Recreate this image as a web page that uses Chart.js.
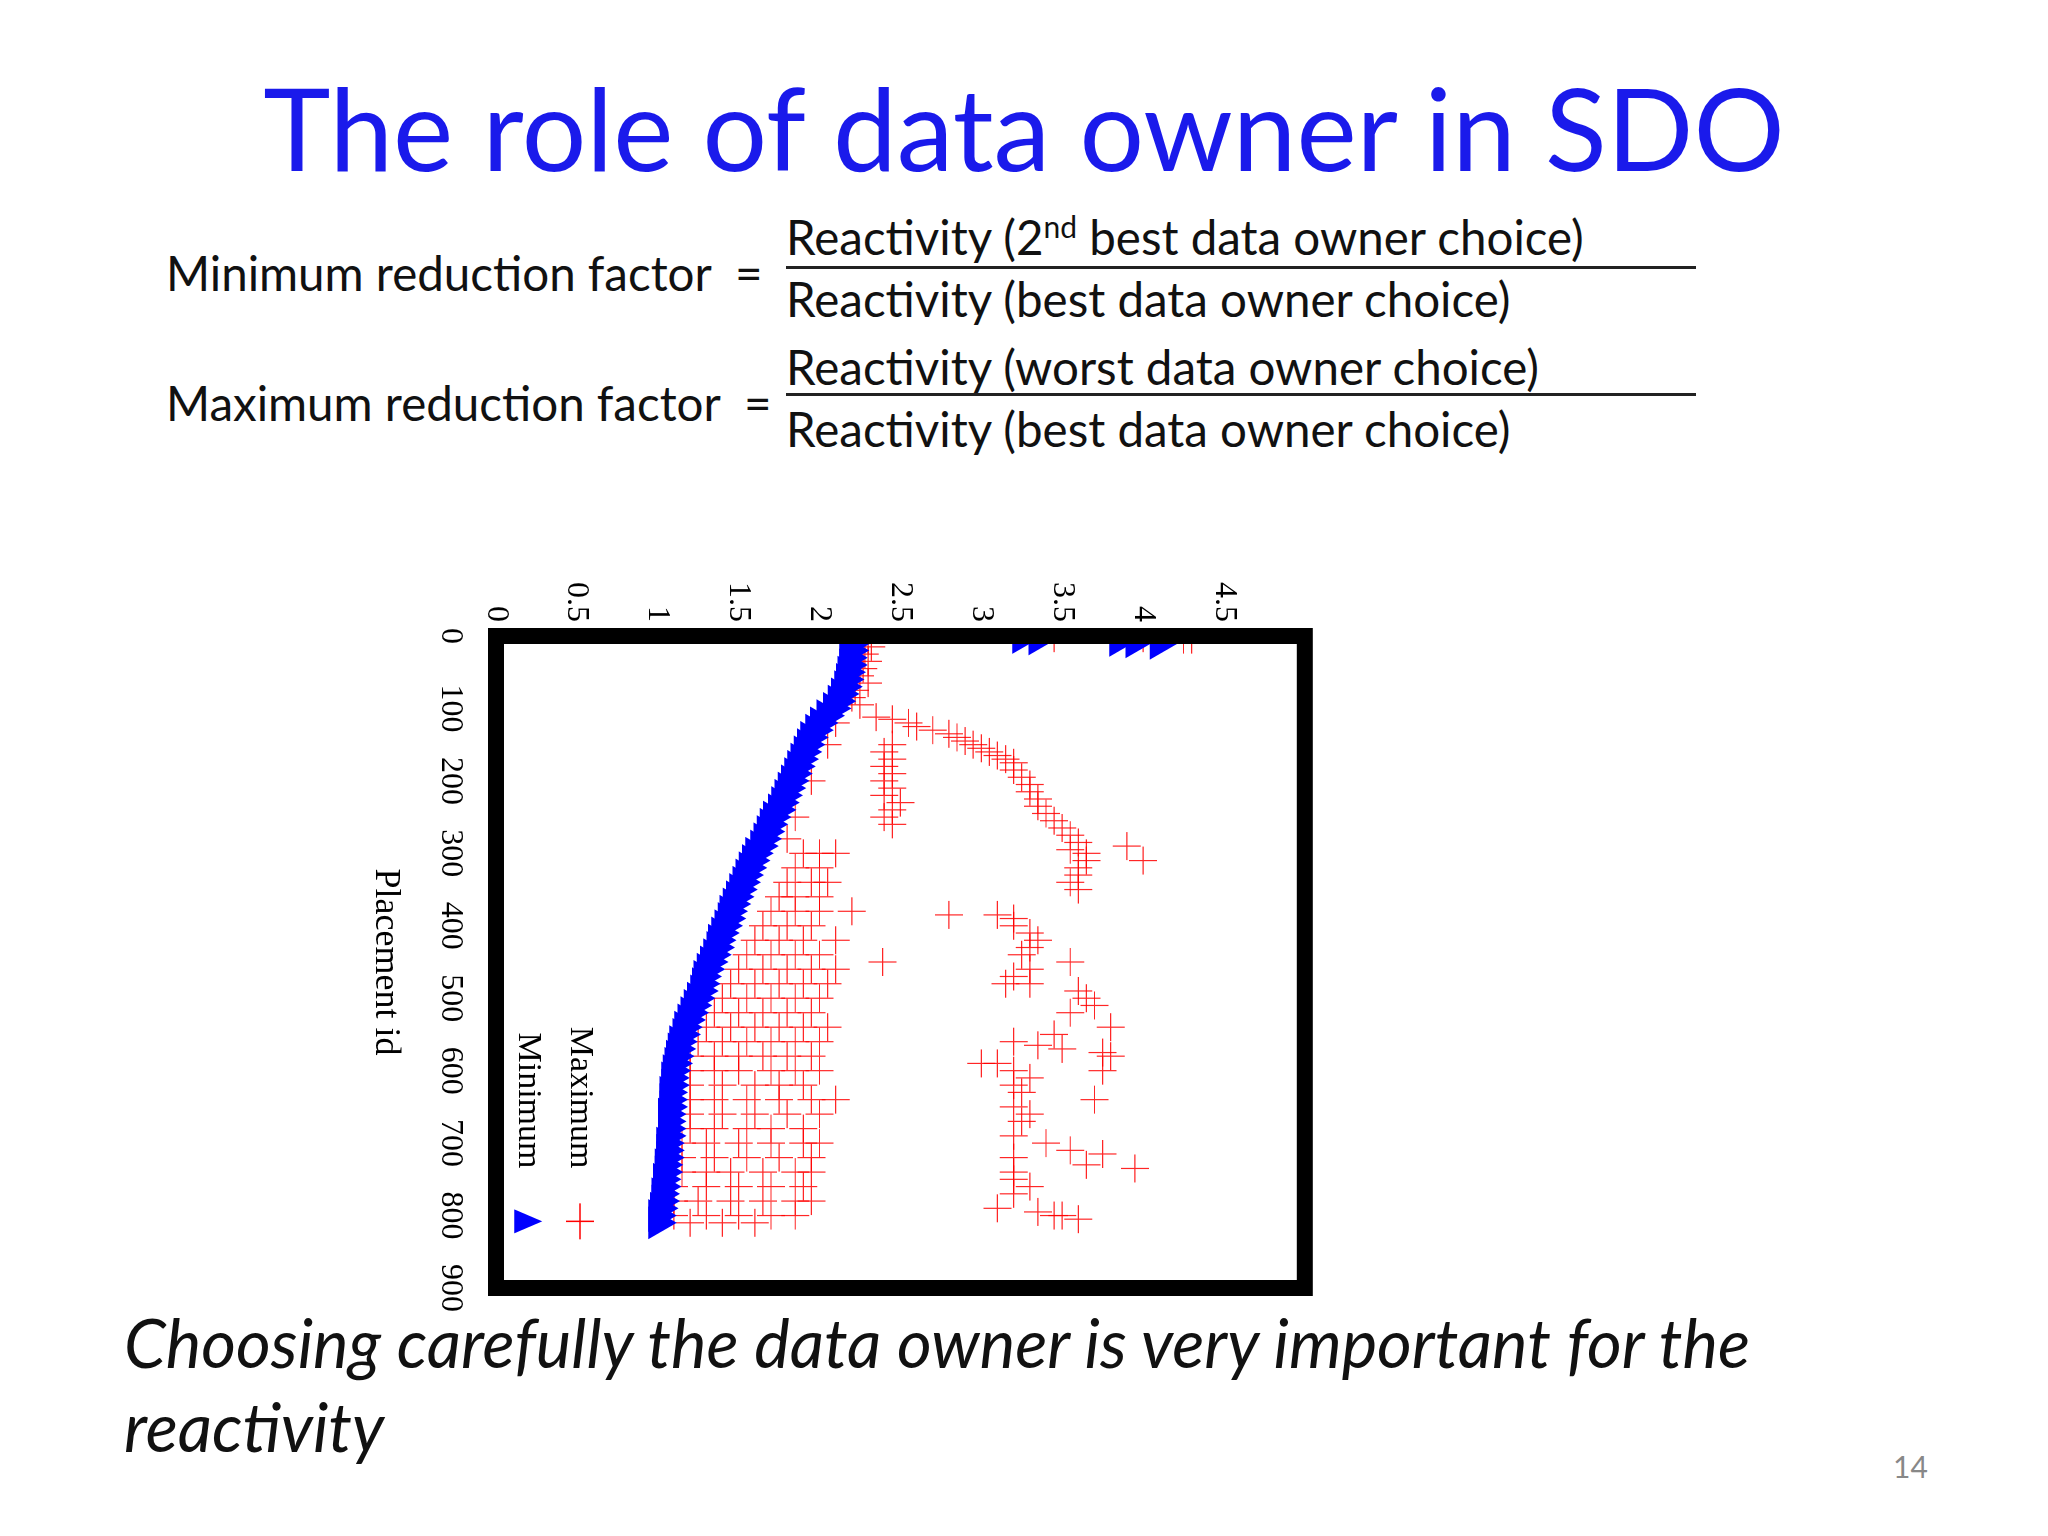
<!DOCTYPE html>
<html>
<head>
<meta charset="utf-8">
<script src="https://cdn.jsdelivr.net/npm/chart.js@4.4.1/dist/chart.umd.min.js"></script>
<style>
  body { margin: 0; width: 2048px; height: 1536px; background: #fff; position: relative; overflow: hidden; font-family: Lato, "Open Sans", sans-serif; }
  .abs { position: absolute; white-space: nowrap; }
  #title { left: 0; width: 2048px; top: 58px; text-align: center; font-size: 114px; color: #1a1aeb; }
  .f { font-size: 47.5px; color: #111; }
  .bar { position: absolute; height: 3px; background: #222; left: 786px; width: 910px; }
  #wrap { position: absolute; left: 470px; top: 470px; width: 750px; height: 970px; transform: rotate(90deg); }
  .note { font-size: 67px; font-style: italic; color: #111; left: 124px; }
</style>
</head>
<body>
<div id="title" class="abs">The role of data owner in SDO</div>

<div class="abs f" style="left:166px;top:244px">Minimum reduction factor&nbsp; =</div>
<div class="abs f" style="left:786px;top:208px">Reactivity (2<sup style="font-size:30px">nd</sup> best data owner choice)</div>
<div class="bar" style="top:266px"></div>
<div class="abs f" style="left:786px;top:270px">Reactivity (best data owner choice)</div>

<div class="abs f" style="left:166px;top:374px">Maximum reduction factor&nbsp; =</div>
<div class="abs f" style="left:786px;top:338px">Reactivity (worst data owner choice)</div>
<div class="bar" style="top:393px"></div>
<div class="abs f" style="left:786px;top:400px">Reactivity (best data owner choice)</div>

<div id="wrap"><canvas id="c" width="750" height="970"></canvas></div>

<div class="abs note" style="top:1302px">Choosing carefully the data owner is very important for the</div>
<div class="abs note" style="top:1386px">reactivity</div>
<div class="abs" style="left:1893px;top:1448px;font-size:30px;color:#888">14</div>

<script>
// Minimum reduction factor (blue triangles)
const minIds = [2, 4, 6, 8, 10,
  0, 10, 20, 30, 40, 50, 60, 70, 80, 90, 100, 110, 120, 130, 140, 150, 160, 170, 180, 190,
  200, 210, 220, 230, 240, 250, 260, 270, 280, 290, 300, 310, 320, 330, 340, 350, 360, 370, 380, 390,
  400, 410, 420, 430, 440, 450, 460, 470, 480, 490, 500, 510, 520, 530, 540, 550, 560, 570, 580, 590,
  600, 610, 620, 630, 640, 650, 660, 670, 680, 690, 700, 710, 720, 730, 740, 750, 760, 770, 780, 790,
  800, 810]
const minVals = [3.25, 3.35, 3.85, 3.95, 4.1,
  2.2, 2.2, 2.19, 2.18, 2.18, 2.17, 2.16, 2.15, 2.13, 2.11, 2.08, 2.04, 2.0, 1.97, 1.94, 1.92, 1.9, 1.88, 1.86, 1.84,
  1.82, 1.8, 1.78, 1.76, 1.74, 1.71, 1.69, 1.67, 1.65, 1.63, 1.6, 1.58, 1.56, 1.54, 1.52, 1.5, 1.48, 1.46, 1.44, 1.43,
  1.41, 1.39, 1.37, 1.36, 1.34, 1.32, 1.3, 1.28, 1.27, 1.26, 1.24, 1.22, 1.2, 1.18, 1.16, 1.15, 1.13, 1.12, 1.11, 1.1,
  1.09, 1.08, 1.08, 1.07, 1.07, 1.07, 1.06, 1.06, 1.06, 1.06, 1.05, 1.05, 1.05, 1.04, 1.04, 1.03, 1.03, 1.02, 1.02, 1.01,
  1.0, 1.0]

// Maximum reduction factor (red crosses), grouped by placement id
const maxIds = [3, 5, 15, 25, 35, 45, 55, 65, 75, 85, 95,
  112, 115, 120, 125, 130, 135, 140, 145, 150, 155, 160, 165, 170, 175, 180, 185, 190, 195,
  200, 205, 210, 215, 220, 225, 230, 235, 240, 245, 250, 255, 260, 265, 275, 280, 285, 290, 295,
  300, 310, 320, 330, 340, 350, 360, 380, 385, 390, 400, 410, 420, 430, 440, 450, 460, 470, 480, 490,
  500, 510, 520, 540, 550, 560, 565, 570, 575, 580, 590, 600, 610, 620, 630, 640, 650, 660, 670, 680, 690,
  700, 710, 715, 720, 730, 735, 740, 750, 760, 770, 780, 790, 795, 800, 805, 810]
const maxVals = [[4.0, 3.45], [4.25, 4.3, 2.3], [2.32], [2.28], [2.3], [2.27], [2.25], [2.3], [2.22], [2.2], [2.25],
  [2.35], [2.45], [2.55, 2.1], [2.6], [2.7], [2.8], [2.85], [2.9], [2.95, 2.45, 2.05], [3.0], [3.05, 2.4], [3.1], [3.15, 2.45], [3.2], [2.4], [3.2], [2.45], [3.25],
  [2.4, 1.95], [3.3], [2.45], [3.3], [2.4], [3.35], [2.5], [3.35], [2.45], [3.4], [2.4, 1.85], [3.45], [2.45], [3.5], [3.55], [1.8], [3.6], [3.9], [3.55],
  [3.65, 1.9, 2.0, 2.1], [3.65, 4.0], [3.6, 1.85, 2.0], [3.6], [3.55, 1.8, 1.95, 2.05], [3.6], [1.75, 1.85, 2.0], [1.7, 1.85, 2.0, 2.2], [2.8, 3.1], [3.2], [3.2, 1.65, 1.8, 1.95], [3.3], [3.35, 1.6, 1.75, 1.9, 2.1], [3.3], [3.25, 1.55, 1.7, 1.85, 2.0], [3.55, 2.39], [3.3, 1.5, 1.65, 1.8, 1.95, 2.1], [3.2], [3.15, 3.3, 1.45, 1.6, 1.75, 1.9, 2.05], [3.6],
  [3.65, 1.4, 1.55, 1.7, 1.85, 2.0], [3.7], [3.55, 1.35, 1.5, 1.65, 1.8, 1.95], [3.8, 1.3, 1.45, 1.6, 1.75, 1.9, 2.05], [3.45], [3.2, 1.25, 1.4, 1.55, 1.7, 1.85, 2.0], [3.35], [3.5], [3.75], [3.8, 1.2, 1.35, 1.5, 1.65, 1.8, 1.95], [3.0, 3.1], [3.2, 3.75, 1.2, 1.35, 1.5, 1.7, 1.85, 2.0], [3.3], [3.2, 1.2, 1.4, 1.6, 1.75, 1.9], [3.25], [3.7, 1.2, 1.35, 1.55, 1.75, 1.95, 2.1], [3.2], [3.3, 1.2, 1.4, 1.6, 1.8, 2.0], [3.25], [1.2, 1.35, 1.55, 1.7, 1.9], [3.2],
  [3.4, 1.15, 1.3, 1.5, 1.7, 1.9, 2.0], [3.55], [3.75], [3.2, 1.15, 1.35, 1.55, 1.75, 1.95], [3.65], [3.95], [3.2, 1.15, 1.3, 1.45, 1.65, 1.85, 1.95], [3.2], [3.3, 1.1, 1.3, 1.5, 1.7, 1.9], [3.2], [1.1, 1.25, 1.45, 1.65, 1.85, 1.95], [3.1], [3.35], [3.45, 3.5, 1.1, 1.3, 1.5, 1.7, 1.85], [3.6], [1.2, 1.4, 1.6]]

const yTicks = [0, 0.5, 1, 1.5, 2, 2.5, 3, 3.5, 4, 4.5]

const minData = minIds.map((id, i) => ({ x: id, y: minVals[i] }))
const maxData = []
maxIds.forEach((id, i) => maxVals[i].forEach(v => maxData.push({ x: id, y: v })))

const serif = 'Liberation Serif, Times New Roman, serif'

// thick gnuplot style frame + key in the lower right corner
const framePlugin = {
  id: 'frame',
  afterDraw(chart) {
    const { ctx, chartArea: a, scales } = chart
    ctx.save()
    ctx.strokeStyle = '#000'
    ctx.lineWidth = 16
    ctx.strokeRect(a.left, a.top, a.right - a.left, a.bottom - a.top)
    ctx.font = '34px ' + serif
    ctx.fillStyle = '#000'
    ctx.textAlign = 'right'
    ctx.textBaseline = 'middle'
    const tx = scales.x.getPixelForValue(735)
    const y1 = scales.y.getPixelForValue(0.52)
    const y2 = scales.y.getPixelForValue(0.2)
    ctx.fillText('Maximum', tx, y1)
    ctx.fillText('Minimum', tx, y2)
    const sx = scales.x.getPixelForValue(808)
    ctx.strokeStyle = 'red'
    ctx.lineWidth = 1.5
    ctx.beginPath()
    ctx.moveTo(sx - 18, y1); ctx.lineTo(sx + 18, y1)
    ctx.moveTo(sx, y1 - 14); ctx.lineTo(sx, y1 + 14)
    ctx.stroke()
    ctx.fillStyle = 'blue'
    ctx.beginPath()
    ctx.moveTo(sx - 12, y2 + 14); ctx.lineTo(sx + 12, y2 + 14); ctx.lineTo(sx, y2 - 14)
    ctx.closePath(); ctx.fill()
    ctx.restore()
  }
}

new Chart(document.getElementById('c'), {
  type: 'scatter',
  data: {
    datasets: [
      { label: 'Minimum', data: minData, pointStyle: 'triangle', pointRadius: 19,
        backgroundColor: 'blue', borderColor: 'blue', borderWidth: 0 },
      { label: 'Maximum', data: maxData, pointStyle: 'cross', pointRadius: 14,
        borderColor: 'rgba(255,0,0,0.85)', borderWidth: 1.2 }
    ]
  },
  options: {
    responsive: false,
    animation: false,
    layout: { padding: { top: 15, right: 17, left: 0, bottom: 0 } },
    plugins: { legend: { display: false }, tooltip: { enabled: false } },
    scales: {
      x: {
        type: 'linear', min: 0, max: 900,
        grid: { display: false },
        border: { display: false },
        ticks: { stepSize: 100, color: '#000', font: { family: serif, size: 32 }, maxRotation: 0, padding: 18 },
        title: { display: true, text: 'Placement id', color: '#000', font: { family: serif, size: 36 } },
        afterFit: (s) => { s.height = 136 }
      },
      y: {
        type: 'linear', min: 0, max: 5,
        grid: { display: false },
        border: { display: false },
        afterBuildTicks: (s) => { s.ticks = yTicks.map(v => ({ value: v })) },
        ticks: { color: '#000', font: { family: serif, size: 32 }, padding: 6, callback: v => String(v) },
        afterFit: (s) => { s.width = 56 }
      }
    }
  },
  plugins: [framePlugin]
})
</script>
</body>
</html>
